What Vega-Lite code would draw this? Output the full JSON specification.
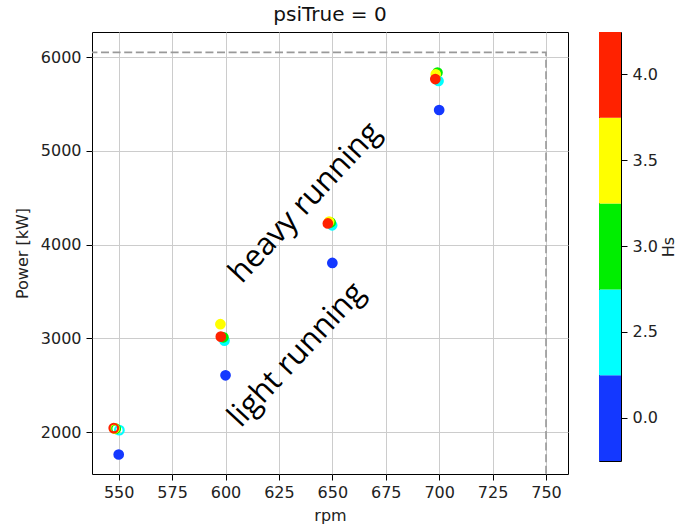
{
  "$schema": "https://vega.github.io/schema/vega-lite/v6.json",
  "background": "white",
  "padding": {"left": 13, "top": 4, "right": 2, "bottom": 0},
  "config": {
    "font": "DejaVu Sans",
    "view": {"stroke": "black", "strokeWidth": 1},
    "axis": {
      "labelFontSize": 16,
      "labelColor": "#222222",
      "tickColor": "black",
      "tickSize": 6,
      "domain": false,
      "gridColor": "#cccccc",
      "gridWidth": 1,
      "titleFontSize": 16,
      "titleFontWeight": "normal",
      "titleColor": "#222222",
      "labelPadding": 4
    },
    "title": {"fontSize": 20, "fontWeight": "normal", "color": "#111111", "offset": 7}
  },
  "spacing": 29,
  "resolve": {"scale": {"x": "independent", "y": "independent"}},
  "hconcat": [
    {
      "width": 476,
      "height": 442,
      "title": {"text": "psiTrue = 0"},
      "encoding": {
        "x": {"field": "rpm", "type": "quantitative", "scale": {"domain": [537.5, 760.3], "nice": false, "zero": false},
              "axis": {"values": [550, 575, 600, 625, 650, 675, 700, 725, 750], "title": "rpm", "grid": true, "titlePadding": 7}},
        "y": {"field": "power", "type": "quantitative", "scale": {"domain": [1552, 6267], "nice": false, "zero": false},
              "axis": {"values": [2000, 3000, 4000, 5000, 6000], "format": "d", "title": "Power [kW]", "grid": true, "labelPadding": 5, "titlePadding": 10}}
      },
      "layer": [
        {
          "data": {"values": [
            {"rpm": 520, "power": 6050, "o": 1},
            {"rpm": 750, "power": 6050, "o": 2},
            {"rpm": 750, "power": 1000, "o": 3}
          ]},
          "mark": {"type": "line", "clip": true, "color": "#999999", "strokeWidth": 1.6, "strokeDash": [8, 3.6]},
          "encoding": {"order": {"field": "o", "type": "quantitative"}}
        },
        {
          "data": {"values": [
            {"rpm": 550.0, "power": 1760, "Hs": "0.0"},
            {"rpm": 600.0, "power": 2605, "Hs": "0.0"},
            {"rpm": 650.0, "power": 3803, "Hs": "0.0"},
            {"rpm": 700.0, "power": 5435, "Hs": "0.0"},
            {"rpm": 599.5, "power": 2975, "Hs": "2.5"},
            {"rpm": 649.9, "power": 4205, "Hs": "2.5"},
            {"rpm": 699.7, "power": 5745, "Hs": "2.5"},
            {"rpm": 599.0, "power": 3010, "Hs": "3.0"},
            {"rpm": 649.2, "power": 4235, "Hs": "3.0"},
            {"rpm": 699.2, "power": 5835, "Hs": "3.0"},
            {"rpm": 597.6, "power": 3150, "Hs": "3.5"},
            {"rpm": 648.5, "power": 4245, "Hs": "3.5"},
            {"rpm": 698.4, "power": 5815, "Hs": "3.5"},
            {"rpm": 597.8, "power": 3017, "Hs": "4.0"},
            {"rpm": 647.9, "power": 4225, "Hs": "4.0"},
            {"rpm": 698.2, "power": 5765, "Hs": "4.0"}
          ]},
          "mark": {"type": "point", "shape": "circle", "filled": true, "size": 115, "opacity": 1},
          "encoding": {
            "color": {"field": "Hs", "type": "nominal",
              "scale": {"domain": ["0.0", "2.5", "3.0", "3.5", "4.0"], "range": ["#1438ff", "#00ffff", "#00ee00", "#ffff00", "#ff2200"]},
              "legend": null}
          }
        },
        {
          "data": {"values": [
            {"rpm": 550.3, "power": 2020, "Hs": "2.5"},
            {"rpm": 548.6, "power": 2035, "Hs": "3.0"},
            {"rpm": 548.0, "power": 2038, "Hs": "3.5"},
            {"rpm": 547.7, "power": 2042, "Hs": "4.0"}
          ]},
          "mark": {"type": "point", "shape": "circle", "filled": false, "size": 75, "strokeWidth": 2.2, "opacity": 1},
          "encoding": {
            "color": {"field": "Hs", "type": "nominal",
              "scale": {"domain": ["0.0", "2.5", "3.0", "3.5", "4.0"], "range": ["#1438ff", "#00ffff", "#00ee00", "#ffff00", "#ff2200"]},
              "legend": null}
          }
        },
        {
          "data": {"values": [
            {"rpm": 637.4, "power": 4443, "label": "heavy running"},
            {"rpm": 633.4, "power": 2821, "label": "light running"}
          ]},
          "mark": {"type": "text", "angle": 313, "fontSize": 31, "font": "Open Sans", "align": "center", "baseline": "middle", "color": "black"},
          "encoding": {"text": {"field": "label", "type": "nominal"}}
        }
      ]
    },
    {
      "width": 22,
      "height": 429,
      "title": {"text": " "},
      "data": {"values": [{"Hs": "0.0"}, {"Hs": "2.5"}, {"Hs": "3.0"}, {"Hs": "3.5"}, {"Hs": "4.0"}]},
      "mark": {"type": "rect"},
      "encoding": {
        "y": {"field": "Hs", "type": "ordinal", "sort": "descending",
              "scale": {"paddingInner": 0, "paddingOuter": 0},
              "axis": {"orient": "right", "title": "Hs", "titleAngle": 270, "titleBaseline": "top", "grid": false, "labelAngle": 0, "labelPadding": 5, "titlePadding": 3}},
        "color": {"field": "Hs", "type": "nominal",
          "scale": {"domain": ["0.0", "2.5", "3.0", "3.5", "4.0"], "range": ["#1438ff", "#00ffff", "#00ee00", "#ffff00", "#ff2200"]},
          "legend": null}
      }
    }
  ]
}
